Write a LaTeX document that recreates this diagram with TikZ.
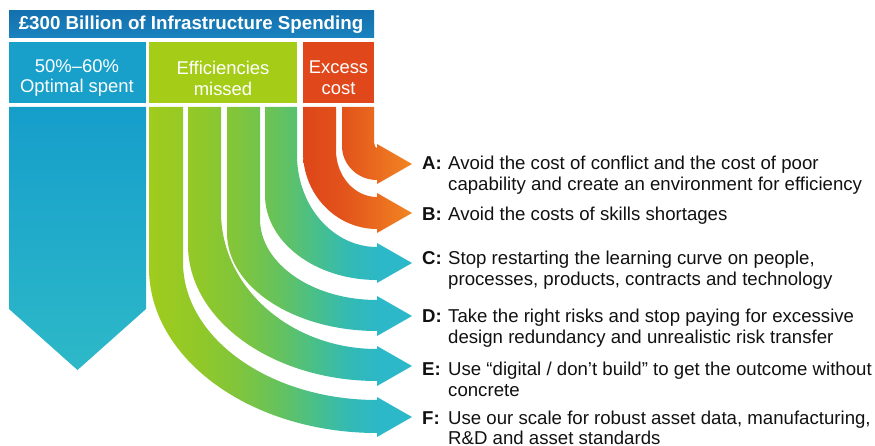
\documentclass[tikz,border=0pt]{standalone}
\usepackage{fontspec}
\setmainfont{Liberation Sans}
\definecolor{titleTop}{HTML}{1470AE}
\definecolor{titleBot}{HTML}{1A83BF}
\definecolor{blueHead}{HTML}{18A0CB}
\definecolor{blueTop}{HTML}{169ECB}
\definecolor{blueBot}{HTML}{2DB9C8}
\definecolor{greenHead}{HTML}{A5CD18}
\definecolor{orangeHead}{HTML}{E0481B}
\definecolor{gA}{HTML}{A0CC1C}
\definecolor{gB}{HTML}{90C82A}
\definecolor{gC}{HTML}{80C53C}
\definecolor{gD}{HTML}{64C25F}
\definecolor{gE}{HTML}{47BF8C}
\definecolor{gF}{HTML}{33BAB4}
\definecolor{gG}{HTML}{2CB8C8}
\definecolor{oA}{HTML}{DE461A}
\definecolor{oB}{HTML}{E2521B}
\definecolor{oC}{HTML}{EA6B1E}
\definecolor{oD}{HTML}{F08622}
\definecolor{txt}{HTML}{111111}
\pgfdeclarehorizontalshading{greensh}{100bp}{color(0bp)=(gA); color(25bp)=(gA); color(35bp)=(gB); color(42bp)=(gC); color(50bp)=(gD); color(57bp)=(gE); color(63bp)=(gF); color(69bp)=(gG); color(100bp)=(gG)}
\pgfdeclarehorizontalshading{orangesh}{100bp}{color(0bp)=(oA); color(25bp)=(oA); color(42bp)=(oB); color(59bp)=(oC); color(75bp)=(oD); color(100bp)=(oD)}
% #1 xl, #2 xr, #3 ys outer, #4 ye outer, #5 ys inner, #6 ye inner, #7 yc
\newcommand\stripath[7]{(#1,107) -- (#1,#3) .. controls (#1,{#3+0.552*(#4-#3)}) and ({377-0.552*(377-#1)},#4) .. (377,#4) -- (377,{#7+20}) -- (412,#7) -- (377,{#7-20}) -- (377,#6) .. controls ({377-0.552*(377-#2)},#6) and (#2,{#5+0.552*(#6-#5)}) .. (#2,#5) -- (#2,107) -- cycle }
\tikzset{
  headtxt/.style={text=white, font=\fontsize{18.5}{21}\selectfont, align=center, inner sep=0},
  itemtxt/.style={text=txt, anchor=base west, inner sep=0, font=\fontsize{18.7}{21}\selectfont},
}
\newcommand\itm[3]{\makebox[26bp][l]{\bfseries #1}\begin{tabular}[t]{@{}l@{}}#2\\#3\end{tabular}}
\begin{document}
\begin{tikzpicture}[x=1bp,y=-1bp]
\useasboundingbox (0,0) rectangle (875,446);
% title bar
\shade[top color=titleTop, bottom color=titleBot] (9,11) rectangle (374,38);
\node[text=white, font=\bfseries\fontsize{18.8}{22}\selectfont, inner sep=0] (title) at (191,25) {£300 Billion of Infrastructure Spending};
% header boxes
\fill[blueHead] (9,42) rectangle (146,103);
\fill[greenHead] (149,42) rectangle (297,103);
\fill[orangeHead] (303,42) rectangle (374,103);
\node[headtxt] (hOpt) at (77,78) {50\%–60\%\\Optimal spent};
\node[headtxt] (hEff) at (223,78) {Efficiencies\\missed};
\node[headtxt] (hExc) at (338.5,78) {Excess\\cost};
% blue column
\shade[top color=blueTop, bottom color=blueBot] (9,107) -- (146,107) -- (146,309) -- (77.5,370) -- (9,309) -- cycle;
% green strips
\shade[shading=greensh]
  \stripath{149}{183}{268}{433}{262}{400}{417}
  \stripath{188}{221}{245}{381}{212}{349}{366}
  \stripath{227}{260}{233}{331}{219}{300}{316}
  \stripath{265}{297}{195}{280}{155}{247}{263};
% orange strips
\shade[shading=orangesh]
  \stripath{303}{336}{152}{229}{150}{197}{213}
  \stripath{342}{374}{146}{180}{140}{148}{164};
% items
\node[itemtxt] (iA) at (422,170) {\itm{A:}{Avoid the cost of conflict and the cost of poor}{capability and create an environment for efficiency}};
\node[itemtxt] (iB) at (422,221) {\makebox[26bp][l]{\bfseries B:}Avoid the costs of skills shortages};
\node[itemtxt] (iC) at (422,265) {\itm{C:}{Stop restarting the learning curve on people,}{processes, products, contracts and technology}};
\node[itemtxt] (iD) at (422,323) {\itm{D:}{Take the right risks and stop paying for excessive}{design redundancy and unrealistic risk transfer}};
\node[itemtxt] (iE) at (422,376) {\itm{E:}{Use “digital / don’t build” to get the outcome without}{concrete}};
\node[itemtxt] (iF) at (422,424) {\fontsize{18.7}{20.5}\selectfont\itm{F:}{Use our scale for robust asset data, manufacturing,}{R\&D and asset standards}};
\end{tikzpicture}
\end{document}
